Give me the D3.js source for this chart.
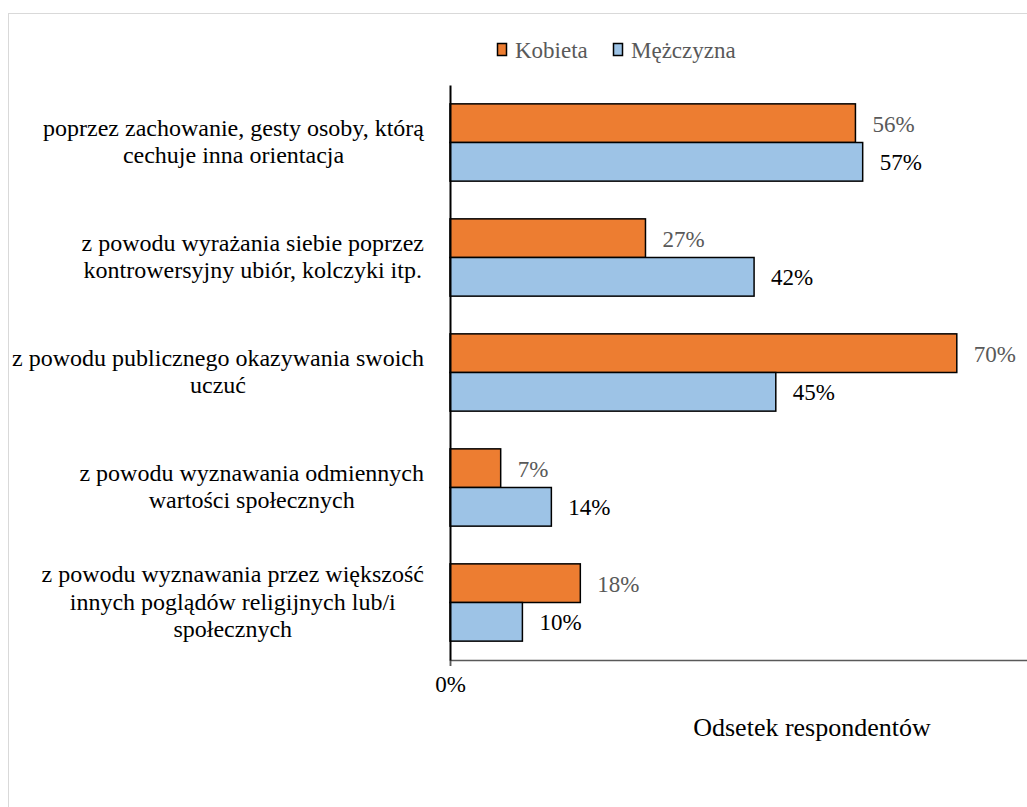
<!DOCTYPE html>
<html>
<head>
<meta charset="utf-8">
<script src="https://cdn.jsdelivr.net/npm/d3@7"></script>
<style>
  html, body { margin: 0; padding: 0; background: #fff; }
  svg { display: block; }
  svg text { font-family: "Liberation Serif", "Times New Roman", "DejaVu Serif", serif; }
</style>
</head>
<body>
<svg id="chart" width="1027" height="807"></svg>
<script>
// Sposób rozpoznania orientacji – odsetek odpowiedzi wg płci
const categories = [
  ["poprzez zachowanie, gesty osoby, którą", "cechuje inna orientacja"],
  ["z powodu wyrażania siebie poprzez", "kontrowersyjny ubiór, kolczyki itp."],
  ["z powodu publicznego okazywania swoich", "uczuć"],
  ["z powodu wyznawania odmiennych", "wartości społecznych"],
  ["z powodu wyznawania przez większość", "innych poglądów religijnych lub/i", "społecznych"]
];
const seriesNames = ["Kobieta", "Mężczyzna"];
const kobieta = [0.56, 0.27, 0.70, 0.07, 0.18];
const mezczyzna = [0.57, 0.42, 0.45, 0.14, 0.10];
const xTicks = [0];
const axisTitle = "Odsetek respondentów";

const FONT = "'Liberation Serif', 'Times New Roman', 'DejaVu Serif', serif";
const colors = { "Kobieta": "#ED7D31", "Mężczyzna": "#9DC3E6" };
const labelColors = { "Kobieta": "#595959", "Mężczyzna": "#000000" };

const svg = d3.select("#chart");

// chart frame
svg.append("rect")
  .attr("x", 8.5).attr("y", 13.5)
  .attr("width", 1040).attr("height", 810)
  .attr("fill", "#fff").attr("stroke", "#D9D9D9").attr("stroke-width", 1);

const plot = { left: 450, right: 1174, top: 85, bottom: 660 };

const x = d3.scaleLinear().domain([0, 1]).range([plot.left, plot.right]);
const y = d3.scaleBand().domain(d3.range(categories.length))
  .range([plot.top, plot.bottom]).paddingInner(0).paddingOuter(0);
const barH = y.bandwidth() * 0.336;

const rows = d3.range(categories.length).map(i => ({
  i, values: [
    { name: seriesNames[0], v: kobieta[i] },
    { name: seriesNames[1], v: mezczyzna[i] }
  ]
}));

// bars
const groups = svg.append("g").selectAll("g").data(rows).join("g");
groups.selectAll("rect").data(d => d.values.map((s, k) => ({ ...s, i: d.i, k })))
  .join("rect")
  .attr("x", x(0))
  .attr("y", d => y(d.i) + y.bandwidth() / 2 - barH + d.k * barH)
  .attr("width", d => x(d.v) - x(0))
  .attr("height", barH)
  .attr("fill", d => colors[d.name])
  .attr("stroke", "#000").attr("stroke-width", 1.5);

// value labels
groups.selectAll("text").data(d => d.values.map((s, k) => ({ ...s, i: d.i, k })))
  .join("text")
  .attr("x", d => x(d.v) + 17)
  .attr("y", d => y(d.i) + y.bandwidth() / 2 - barH + d.k * barH + barH / 2 + 8.5)
  .attr("font-family", FONT)
  .attr("font-size", 23)
  .attr("fill", d => labelColors[d.name])
  .text(d => d3.format(".0%")(d.v));

// x axis
const xAxis = svg.append("g")
  .attr("transform", `translate(0,${plot.bottom})`)
  .call(d3.axisBottom(x).tickValues(xTicks).tickFormat(d3.format(".0%")).tickSize(6).tickPadding(10));
xAxis.attr("font-family", FONT);
xAxis.select(".domain").attr("stroke", "#595959").attr("stroke-width", 1.5);
xAxis.selectAll(".tick line").attr("stroke", "#595959").attr("stroke-width", 1.5);
xAxis.selectAll(".tick text").attr("font-size", 23).attr("fill", "#000").attr("font-family", FONT);

// y axis line
const yAxis = svg.append("g")
  .attr("transform", `translate(${plot.left},0)`)
  .call(d3.axisLeft(y).tickSize(0).tickFormat(""));
yAxis.select(".domain").attr("stroke", "#000").attr("stroke-width", 2);

// category labels: lines centred within a block aligned to the axis
const labelRight = plot.left - 26;
const lineStep = 27.5;
const catG = svg.append("g");
categories.forEach((lines, i) => {
  const cy = y(i) + y.bandwidth() / 2;
  const t = catG.append("text").attr("font-family", FONT).attr("font-size", 24)
    .attr("fill", "#000").attr("text-anchor", "middle");
  const spans = lines.map((ln, j) => t.append("tspan")
    .attr("y", cy + (j - (lines.length - 1) / 2) * lineStep + 7)
    .text(ln));
  const widths = spans.map(s => s.node().getComputedTextLength());
  const cx = labelRight - d3.max(widths) / 2;
  spans.forEach(s => s.attr("x", cx));
});

// legend
const legend = svg.append("g");
const legendItems = [
  { name: seriesNames[0], x: 497 },
  { name: seriesNames[1], x: 613 }
];
legendItems.forEach(it => {
  legend.append("rect")
    .attr("x", it.x + 0.5).attr("y", 43.5).attr("width", 9).attr("height", 12)
    .attr("fill", colors[it.name]).attr("stroke", "#000").attr("stroke-width", 1.5);
  legend.append("text")
    .attr("x", it.x + 18).attr("y", 58)
    .attr("font-family", FONT)
    .attr("font-size", 23).attr("fill", "#595959")
    .text(it.name);
});

// axis title
svg.append("text")
  .attr("x", (plot.left + plot.right) / 2).attr("y", 736)
  .attr("text-anchor", "middle")
  .attr("font-family", FONT)
  .attr("font-size", 26).attr("fill", "#000")
  .text(axisTitle);
</script>
</body>
</html>
